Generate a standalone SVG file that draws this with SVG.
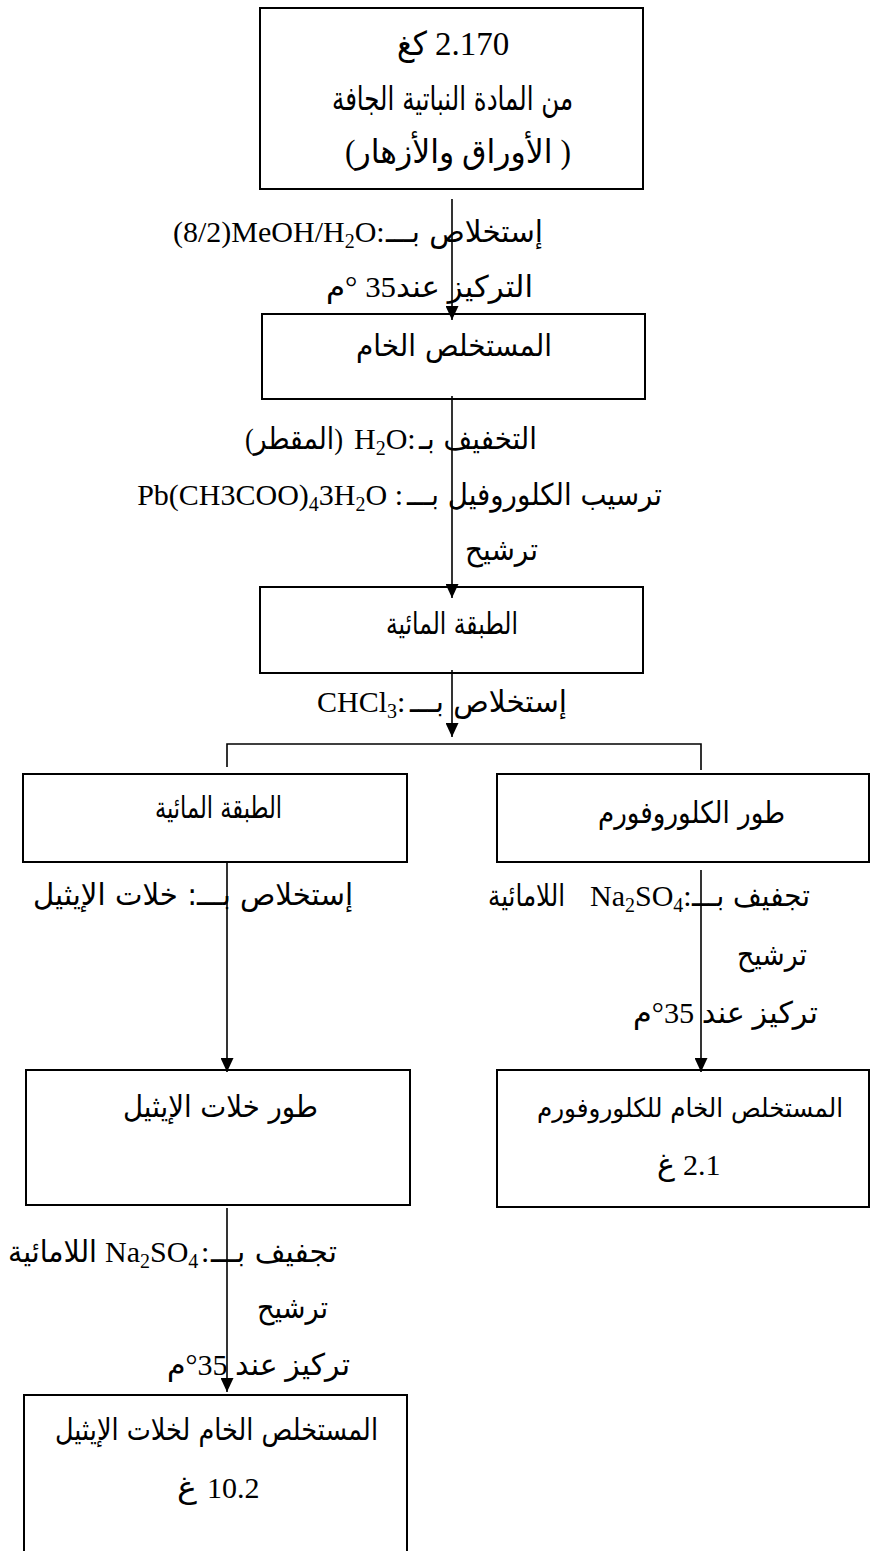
<svg xmlns="http://www.w3.org/2000/svg" width="870" height="1551" viewBox="0 0 870 1551">
<style>
.box{fill:none;stroke:#000;stroke-width:2}
.conn{fill:none;stroke:#000;stroke-width:1.6}
.lat{font-family:"Liberation Serif","Times New Roman",serif;font-size:30px;fill:#000}
.ar{font-family:"DejaVu Sans","Noto Sans",sans-serif;font-size:30px;fill:#000}
.mix{font-family:"Liberation Serif","DejaVu Sans",sans-serif;font-size:30px;fill:#000}
.big{font-size:33px}
.sub{font-size:20px}
</style>
<defs>
<marker id="ah" viewBox="0 0 14 13" markerWidth="14" markerHeight="13" refX="14" refY="6.5" orient="auto" markerUnits="userSpaceOnUse">
<path d="M0,0 L14,6.5 L0,13 z" fill="#000"/>
</marker>
</defs>
<rect width="870" height="1551" fill="#fff"/>

<g id="connectors">
<path class="conn" d="M452,199 V320" marker-end="url(#ah)"/>
<path class="conn" d="M452,396 V598" marker-end="url(#ah)"/>
<path class="conn" d="M452,670 V737" marker-end="url(#ah)"/>
<path class="conn" d="M227,767 V744 H701 V770"/>
<path class="conn" d="M227,862 V1072" marker-end="url(#ah)"/>
<path class="conn" d="M701,870 V1072" marker-end="url(#ah)"/>
<path class="conn" d="M227,1208 V1392" marker-end="url(#ah)"/>
</g>

<g id="labels">
<text class="lat" x="173" y="242">(8/2)MeOH/H<tspan class="sub" dy="6">2</tspan><tspan dy="-6">O:</tspan></text>
<text class="ar" x="386" y="242" textLength="157" lengthAdjust="spacingAndGlyphs">إستخلاص بـــ</text>

<text class="mix" x="326" y="297" textLength="207" lengthAdjust="spacingAndGlyphs">التركيز عند35 °م</text>

<text class="mix" x="245" y="449" textLength="98" lengthAdjust="spacingAndGlyphs">(المقطر)</text>
<text class="lat" x="354" y="449">H<tspan class="sub" dy="6">2</tspan><tspan dy="-6">O:</tspan></text>
<text class="ar" x="419" y="449" textLength="118" lengthAdjust="spacingAndGlyphs">التخفيف بـ</text>

<text class="lat" x="403" y="505" text-anchor="end">Pb(CH3COO)<tspan class="sub" dy="6">4</tspan><tspan dy="-6">3H</tspan><tspan class="sub" dy="6">2</tspan><tspan dy="-6">O :</tspan></text>
<text class="ar" x="407" y="505" textLength="255" lengthAdjust="spacingAndGlyphs">ترسيب الكلوروفيل بـــ</text>

<text class="ar" x="465" y="560" textLength="73" lengthAdjust="spacingAndGlyphs">ترشيح</text>

<text class="lat" x="317" y="712">CHCl<tspan class="sub" dy="6">3</tspan><tspan dy="-6">:</tspan></text>
<text class="ar" x="410" y="712" textLength="157" lengthAdjust="spacingAndGlyphs">إستخلاص بـــ</text>

<text class="ar" x="33" y="905" textLength="320" lengthAdjust="spacingAndGlyphs">إستخلاص بـــ: خلات الإيثيل</text>

<text class="ar" x="488" y="906" textLength="77" lengthAdjust="spacingAndGlyphs">اللامائية</text>
<text class="lat" x="590" y="906">Na<tspan class="sub" dy="6">2</tspan><tspan dy="-6">SO</tspan><tspan class="sub" dy="6">4</tspan><tspan dy="-6">:</tspan></text>
<text class="ar" x="692" y="906" textLength="118" lengthAdjust="spacingAndGlyphs">تجفيف بـــ</text>

<text class="ar" x="737" y="965" textLength="70" lengthAdjust="spacingAndGlyphs">ترشيح</text>

<text class="mix" x="633" y="1023" textLength="185" lengthAdjust="spacingAndGlyphs">تركيز عند 35°م</text>

<text class="ar" x="8" y="1262" textLength="89" lengthAdjust="spacingAndGlyphs">اللامائية</text>
<text class="lat" x="105" y="1262">Na<tspan class="sub" dy="6">2</tspan><tspan dy="-6">SO</tspan><tspan class="sub" dy="6">4</tspan></text>
<text class="lat" x="201" y="1262">:</text>
<text class="ar" x="211" y="1262" textLength="126" lengthAdjust="spacingAndGlyphs">تجفيف بـــ</text>

<text class="ar" x="257" y="1318" textLength="71" lengthAdjust="spacingAndGlyphs">ترشيح</text>

<text class="mix" x="167" y="1375" textLength="183" lengthAdjust="spacingAndGlyphs">تركيز عند 35°م</text>
</g>

<g id="n1">
<rect class="box" x="260" y="8" width="383" height="181"/>
<text class="ar big" x="397" y="55" textLength="30" lengthAdjust="spacingAndGlyphs">كغ</text>
<text class="lat big" x="435" y="55">2.170</text>
<text class="ar big" x="332" y="110" textLength="241" lengthAdjust="spacingAndGlyphs">من المادة النباتية الجافة</text>
<text class="mix big" x="345" y="163" textLength="226" lengthAdjust="spacingAndGlyphs">(الأوراق والأزهار )</text>
</g>

<g id="n2">
<rect class="box" x="262" y="314" width="383" height="85"/>
<text class="ar" x="356" y="356" textLength="196" lengthAdjust="spacingAndGlyphs">المستخلص الخام</text>
</g>

<g id="n3">
<rect class="box" x="260" y="587" width="383" height="86"/>
<text class="ar" x="386" y="634" textLength="132" lengthAdjust="spacingAndGlyphs">الطبقة المائية</text>
</g>

<g id="n4">
<rect class="box" x="23" y="774" width="384" height="88"/>
<text class="ar" x="155" y="818" textLength="127" lengthAdjust="spacingAndGlyphs">الطبقة المائية</text>
</g>

<g id="n5">
<rect class="box" x="497" y="774" width="372" height="88"/>
<text class="ar" x="598" y="823" textLength="187" lengthAdjust="spacingAndGlyphs">طور الكلوروفورم</text>
</g>

<g id="n6">
<rect class="box" x="26" y="1070" width="384" height="135"/>
<text class="ar" x="123" y="1117" textLength="195" lengthAdjust="spacingAndGlyphs">طور خلات الإيثيل</text>
</g>

<g id="n7">
<rect class="box" x="497" y="1070" width="372" height="137"/>
<text class="ar" x="537" y="1117" style="font-size:26px" textLength="306" lengthAdjust="spacingAndGlyphs">المستخلص الخام للكلوروفورم</text>
<text class="ar" x="657" y="1175" textLength="18" lengthAdjust="spacingAndGlyphs">غ</text>
<text class="lat" x="683" y="1175">2.1</text>
</g>

<g id="n8">
<rect class="box" x="24" y="1395" width="383" height="170"/>
<text class="ar" x="55" y="1440" textLength="323" lengthAdjust="spacingAndGlyphs">المستخلص الخام لخلات الإيثيل</text>
<text class="ar" x="177" y="1498" textLength="20" lengthAdjust="spacingAndGlyphs">غ</text>
<text class="lat" x="207" y="1498">10.2</text>
</g>
</svg>
